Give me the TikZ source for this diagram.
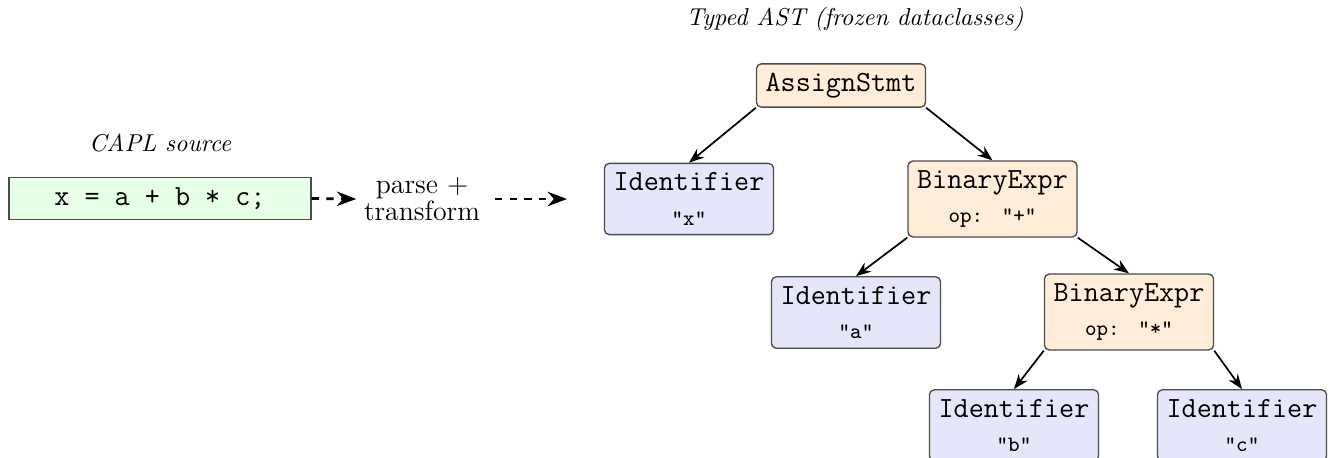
\documentclass[tikz,border=0pt]{standalone}
\usetikzlibrary{arrows.meta}
\definecolor{idfill}{RGB}{230,230,250}
\definecolor{exfill}{RGB}{255,236,217}
\definecolor{srcfill}{RGB}{230,255,230}
\newcommand{\subln}[1]{{\fontsize{9}{14.3}\selectfont #1}}
\tikzset{
  basebox/.style={draw=black!70, line width=0.55pt, inner xsep=3.75pt, inner ysep=3.75pt,
    align=center, font=\fontsize{12}{14.3}\selectfont\ttfamily},
  idnode/.style={basebox, rounded corners=2pt, fill=idfill},
  exnode/.style={basebox, rounded corners=2pt, fill=exfill},
  srcnode/.style={basebox, fill=srcfill, minimum width=123.8pt, minimum height=17.2pt},
  tedge/.style={-{Stealth}, line width=0.7pt},
  flow/.style={-{Stealth}, dashed, line width=1.1pt},
  captxt/.style={font=\fontsize{10}{12}\selectfont\itshape, inner sep=0pt},
  lbltxt/.style={font=\fontsize{11.4}{11}\selectfont, align=center, inner xsep=3pt}
}
\begin{document}
\begin{tikzpicture}[x=0.4098pt, y=-0.4098pt]
\useasboundingbox (0,0) rectangle (1335,458);
% source side
\node[captxt, anchor=base] (caplcap) at (160,151) {CAPL source};
\node[srcnode] (src) at (160,198.5) {x = a + b * c;};
\node[lbltxt] (lbl) at (422,199) {parse +\\transform};
\coordinate (astin) at (567,199);
\draw[flow] (src.east) -- (lbl.west);
\draw[flow] ([xshift=3pt]lbl.east) -- (astin);
% tree
\node[captxt, anchor=base] (astcap) at (855,26) {Typed AST (frozen dataclasses)};
\node[exnode] (assign) at (841,85.5) {AssignStmt};
\node[idnode] (idx) at (689,199) {Identifier\\\subln{"x"}};
\node[exnode] (bin1) at (992.5,199) {BinaryExpr\\\subln{op:\hspace{0.85em}"+"}};
\node[idnode] (ida) at (856,312.5) {Identifier\\\subln{"a"}};
\node[exnode] (bin2) at (1129,312) {BinaryExpr\\\subln{op:\hspace{0.85em}"*"}};
\node[idnode] (idb) at (1014,425.5) {Identifier\\\subln{"b"}};
\node[idnode] (idc) at (1242,425.5) {Identifier\\\subln{"c"}};
\draw[tedge] (assign.south west) -- (idx.north);
\draw[tedge] (assign.south east) -- (bin1.north);
\draw[tedge] (bin1.south west) -- (ida.north);
\draw[tedge] (bin1.south east) -- (bin2.north);
\draw[tedge] (bin2.south west) -- (idb.north);
\draw[tedge] (bin2.south east) -- (idc.north);
\end{tikzpicture}
\end{document}
